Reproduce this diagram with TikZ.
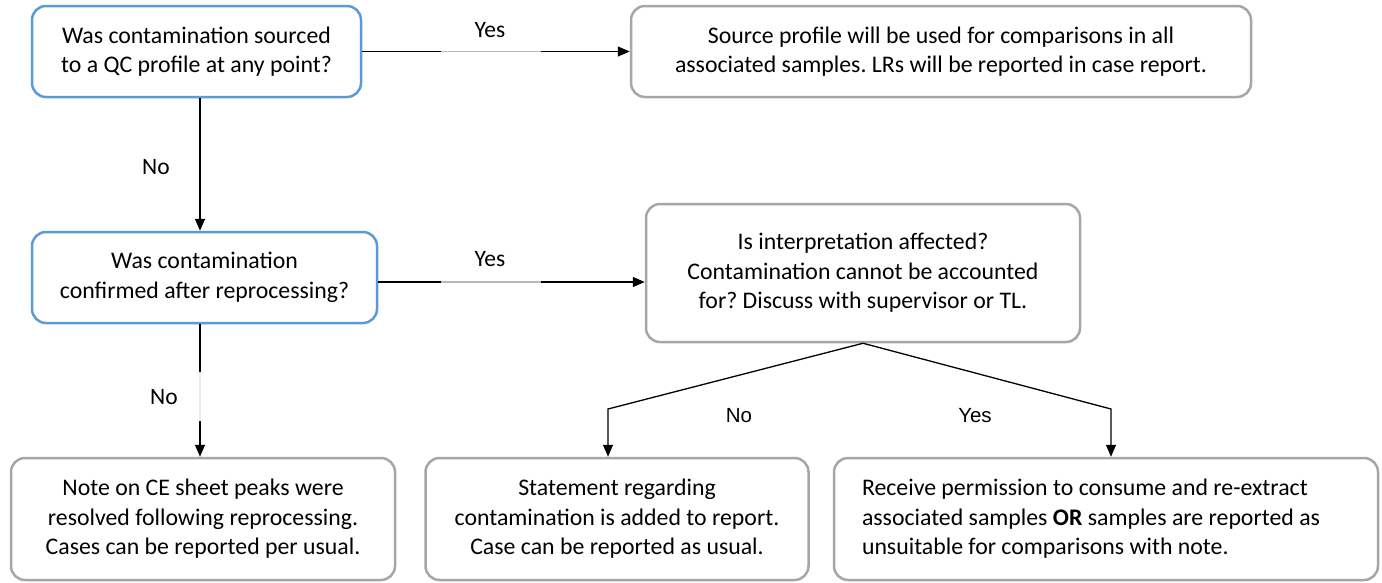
\documentclass[tikz,border=0pt]{standalone}
\usepackage{fontspec}
\setmainfont{Carlito}
\newfontfamily\arialfont{Liberation Sans}
\usetikzlibrary{arrows.meta,calc}
\definecolor{boxblue}{HTML}{5B9BD5}
\definecolor{boxgray}{HTML}{A6A6A6}
\frenchspacing
\tikzset{
  basebox/.style={rounded corners=14pt, line width=2.5pt, fill=white, align=center,
    font=\fontsize{23.8}{29.5}\selectfont\frenchspacing, inner sep=0pt},
  bluebox/.style={basebox, draw=boxblue},
  graybox/.style={basebox, draw=boxgray},
  conn/.style={line width=1.3pt, -{Triangle[length=12pt,width=10pt]}},
  gapseg/.style={line width=1.6pt, draw=#1},
  lbl/.style={font=\fontsize{23.5}{26}\selectfont, inner sep=0pt},
  albl/.style={font=\arialfont\fontsize{20.5}{24}\selectfont, inner sep=0pt}
}
\begin{document}
\begin{tikzpicture}[x=1pt,y=-1pt]
\useasboundingbox (0,0) rectangle (1382,582);
\node[bluebox, minimum width=329pt, minimum height=91pt] (A) at (196.5,51.5)
  {Was contamination sourced\\to a QC profile at any point?};
\node[graybox, minimum width=620pt, minimum height=91pt] (B) at (941,51.5)
  {Source profile will be used for comparisons in all\\associated samples. LRs will be reported in case report.};
\node[bluebox, minimum width=345pt, minimum height=91pt] (C) at (204.5,277.5)
  {Was contamination\\confirmed after reprocessing?};
\node[graybox, minimum width=434pt, minimum height=138pt] (D) at (863,273)
  {Is interpretation affected?\\Contamination cannot be accounted\\for? Discuss with supervisor or TL.};
\node[graybox, minimum width=384pt, minimum height=122pt] (E) at (203,519)
  {Note on CE sheet peaks were\\resolved following reprocessing.\\Cases can be reported per usual.};
\node[graybox, minimum width=383pt, minimum height=122pt] (F) at (617,519)
  {Statement regarding\\contamination is added to report.\\Case can be reported as usual.};
\node[graybox, text width=488pt, inner xsep=28pt, align=flush left, minimum height=122pt] (G) at (1106,519)
  {Receive permission to consume and re-extract\\associated samples \textbf{OR} samples are reported as\\unsuitable for comparisons with note.};

\coordinate (colA) at (200,0);
\coordinate (rowC) at (0,282);
\coordinate (kL) at (608,409);
\coordinate (kR) at (1111,409);

% connectors
\draw[conn] (A.east) -- (B.west);
\draw[conn] (A.south -| colA) -- (C.north -| colA);
\draw[conn] (C.east |- rowC) -- (D.west |- rowC);
\draw[conn] (C.south -| colA) -- (E.north -| colA);
\draw[conn] (D.south) -- (kL) -- (F.north -| kL);
\draw[conn] (D.south) -- (kR) -- (G.north -| kR);

% lighter segments under labels
\draw[gapseg=gray!55] ($(A.east)+(79,0)$) -- ++(100,0);
\draw[gapseg=gray!55] ($(C.east |- rowC)+(63,0)$) -- ++(100,0);
\draw[gapseg=gray!15] ($(C.south -| colA)+(0,48)$) -- ++(0,49);

% labels
\node[lbl] (y1) at (490,30) {Yes};
\node[lbl] (n1) at (156,167) {No};
\node[lbl] (y2) at (490,259) {Yes};
\node[lbl] (n2) at (164,397) {No};
\node[albl] (n3) at (739,416) {No};
\node[albl] (y3) at (975,416) {Yes};
\end{tikzpicture}
\end{document}
